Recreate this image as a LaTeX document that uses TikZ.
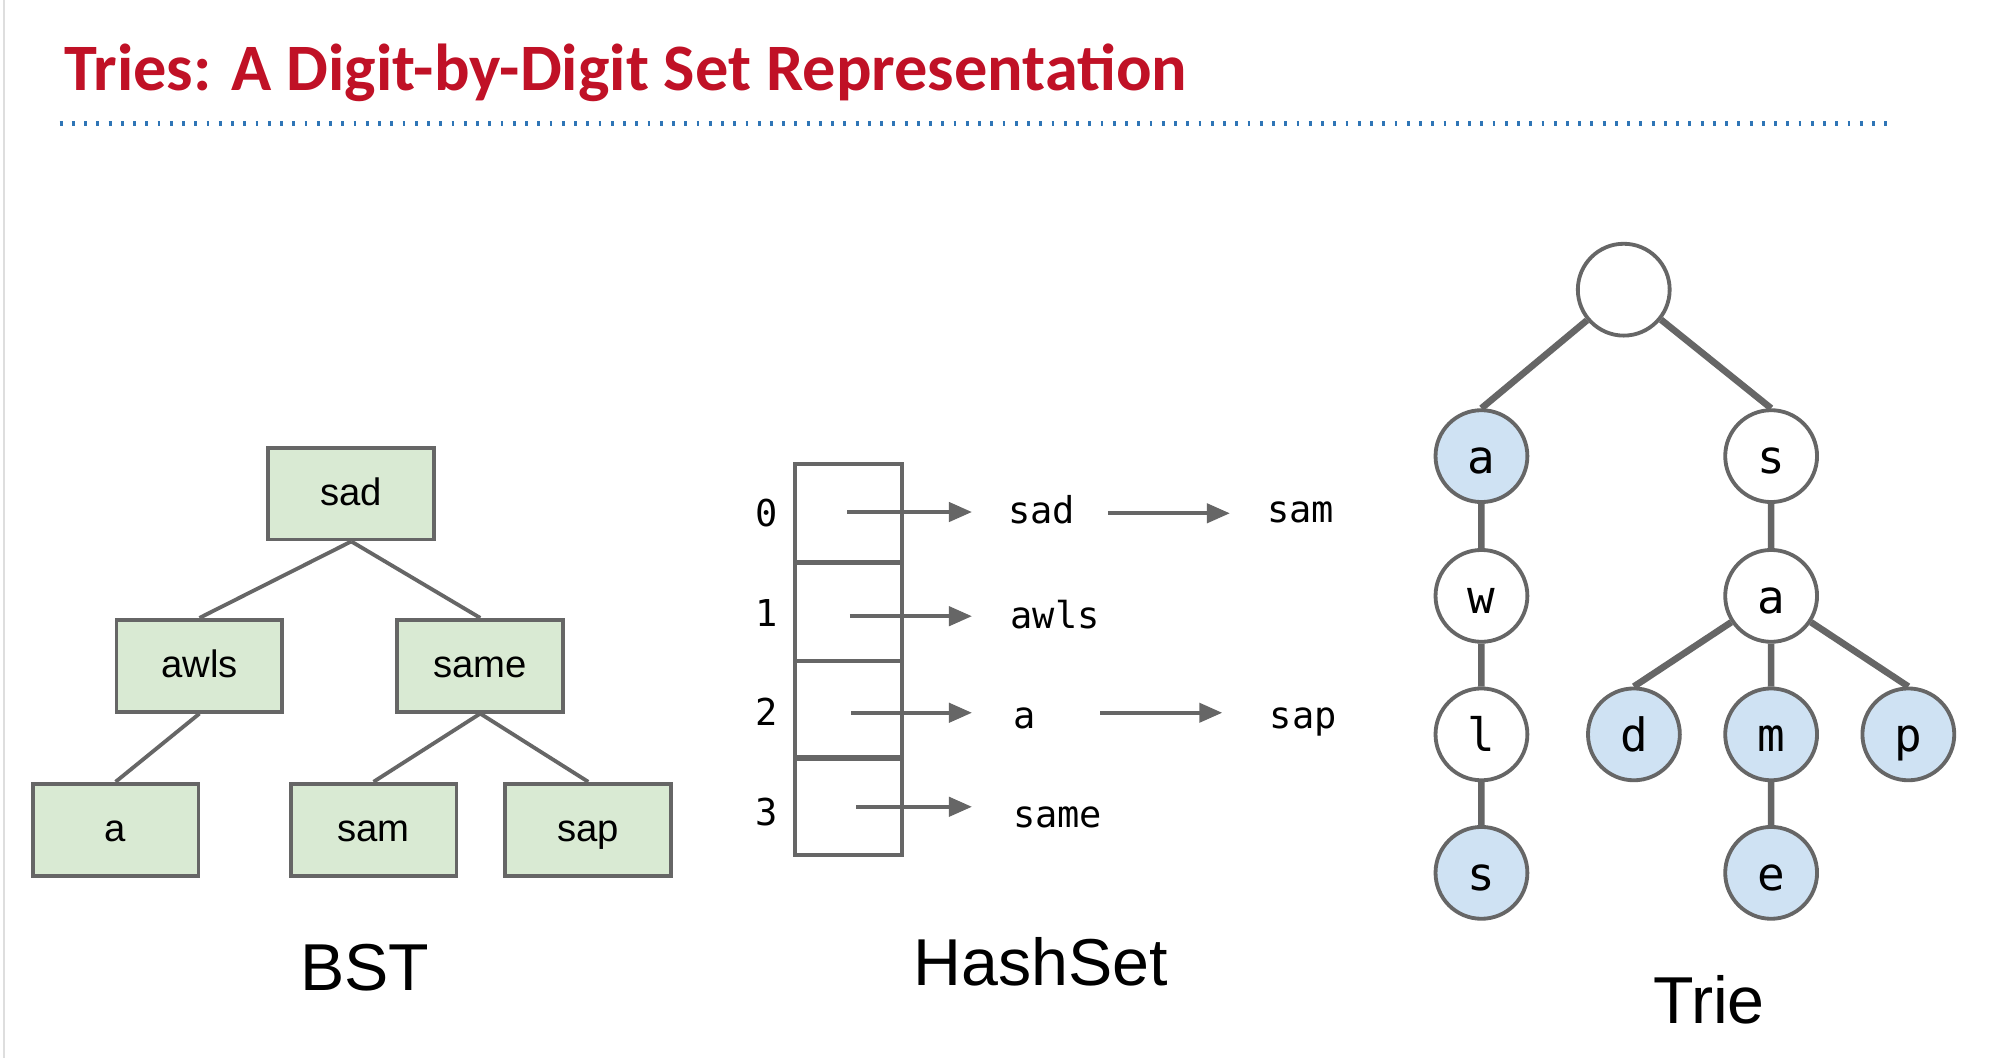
\documentclass[tikz,border=0pt]{standalone}
\usepackage{fontspec}
\setmainfont{Liberation Sans}
\newfontfamily\titlefont{Carlito}
\newfontfamily\codefont{DejaVu Sans Mono}
\usetikzlibrary{arrows.meta}
\definecolor{titlered}{RGB}{192,17,38}
\definecolor{dotblue}{RGB}{46,117,182}
\definecolor{linegray}{RGB}{102,102,102}
\definecolor{bstgreen}{RGB}{217,234,211}
\definecolor{trieblue}{RGB}{207,226,243}
\definecolor{bordergray}{RGB}{222,222,222}
\begin{document}
\begin{tikzpicture}[x=0.5pt,y=-0.5pt,
  bstbox/.style={draw=linegray, line width=1.5pt, fill=bstgreen,
    minimum width=65pt, minimum height=36pt, inner sep=0pt,
    text height=9pt, text depth=0pt, font=\fontsize{15}{18}\selectfont},
  bstedge/.style={draw=linegray, line width=1.5pt},
  cellbox/.style={draw=linegray, line width=1.5pt, minimum width=42pt,
    minimum height=38.5pt, inner sep=0pt},
  hashtxt/.style={anchor=base west, inner sep=0pt, font=\codefont\fontsize{14.5}{17}\selectfont},
  idxtxt/.style={anchor=base, inner sep=0pt, font=\codefont\fontsize{14.5}{17}\selectfont},
  harrow/.style={draw=linegray, line width=1.5pt, -{Triangle[length=9pt,width=7.5pt]}},
  trienode/.style={circle, draw=linegray, line width=1.5pt, fill=white,
    minimum size=36pt, inner sep=0pt, text height=13.5pt, text depth=0pt,
    font=\codefont\fontsize{18}{21}\selectfont},
  trieleaf/.style={trienode, fill=trieblue},
  trieedge/.style={draw=linegray, line width=2.6pt},
  bigtxt/.style={inner sep=0pt, font=\fontsize{26}{30}\selectfont}
]
\useasboundingbox (0,0) rectangle (1560,829);
\fill[white] (0,0) rectangle (1560,829);
\draw[bordergray, line width=1pt] (3,0) -- (3,829);
\begin{scope}[scale=0.996]
% title
\node[anchor=base west, inner sep=0pt, text=titlered,
  font=\titlefont\bfseries\fontsize{26}{30}\selectfont] (title) at (50,71)
  {Tries: A Digit-by-Digit Set Representation};
\draw[dotblue, line width=2pt, dash pattern=on 1.1pt off 3.7pt] (47,97) -- (1492,97);

% BST
\node[bstbox] (bsad) at (276.5,388.5) {sad};
\node[bstbox] (bawls) at (157,524) {awls};
\node[bstbox] (bsame) at (378,524) {same};
\node[bstbox] (ba) at (91,653) {a};
\node[bstbox] (bsam) at (294,653) {sam};
\node[bstbox] (bsap) at (463,653) {sap};
\draw[bstedge] (bsad.south) -- (bawls.north);
\draw[bstedge] (bsad.south) -- (bsame.north);
\draw[bstedge] (bawls.south) -- (ba.north);
\draw[bstedge] (bsame.south) -- (bsam.north);
\draw[bstedge] (bsame.south) -- (bsap.north);
\node[bigtxt] (bstlabel) at (287,762) {BST};

% HashSet
\node[cellbox] (cell0) at (668,404) {};
\node[cellbox] (cell1) at (668,481.5) {};
\node[cellbox] (cell2) at (668,558.5) {};
\node[cellbox] (cell3) at (668,634.5) {};
\node[idxtxt] (i0) at (603,414) {0};
\node[idxtxt] (i1) at (603,493) {1};
\node[idxtxt] (i2) at (603,571) {2};
\node[idxtxt] (i3) at (603,650) {3};
\node[hashtxt] (hsad) at (793,412) {sad};
\node[hashtxt] (hawls) at (795,495) {awls};
\node[hashtxt] (ha) at (797,573) {a};
\node[hashtxt] (hsame) at (797,651) {same};
\node[hashtxt] (hsam) at (997,411) {sam};
\node[hashtxt] (hsap) at (999,573) {sap};
\coordinate (s0) at (667,403);
\coordinate (s1) at (669,485);
\coordinate (s2) at (670,561);
\coordinate (s3) at (674,635);
\coordinate (e0) at (765,403);
\coordinate (e1) at (765,485);
\coordinate (e2) at (765,561);
\coordinate (e3) at (765,635);
\coordinate (s4) at (872,404);
\coordinate (e4) at (968,404);
\coordinate (s5) at (866,561);
\coordinate (e5) at (962,561);
\draw[harrow] (s0) -- (e0);
\draw[harrow] (s1) -- (e1);
\draw[harrow] (s2) -- (e2);
\draw[harrow] (s3) -- (e3);
\draw[harrow] (s4) -- (e4);
\draw[harrow] (s5) -- (e5);
\node[bigtxt] (hashlabel) at (819,757) {HashSet};

% Trie
\node[trienode] (root) at (1278,228) {};
\node[trieleaf] (ta1) at (1166,359) {a};
\node[trienode] (ts1) at (1394,359) {s};
\node[trienode] (tw) at (1166,469) {w};
\node[trienode] (ta2) at (1394,469) {a};
\node[trienode] (tl) at (1166,578) {l};
\node[trieleaf] (td) at (1286,578) {d};
\node[trieleaf] (tm) at (1394,578) {m};
\node[trieleaf] (tp) at (1502,578) {p};
\node[trieleaf] (ts2) at (1166,687) {s};
\node[trieleaf] (te) at (1394,687) {e};
\draw[trieedge] (root) -- (ta1.north);
\draw[trieedge] (root) -- (ts1.north);
\draw[trieedge] (ta1) -- (tw);
\draw[trieedge] (tw) -- (tl);
\draw[trieedge] (tl) -- (ts2);
\draw[trieedge] (ts1) -- (ta2);
\draw[trieedge] (ta2) -- (td.north);
\draw[trieedge] (ta2) -- (tm);
\draw[trieedge] (ta2) -- (tp.north);
\draw[trieedge] (tm) -- (te);
\node[bigtxt] (trielabel) at (1345,787) {Trie};
\end{scope}
\end{tikzpicture}
\end{document}
